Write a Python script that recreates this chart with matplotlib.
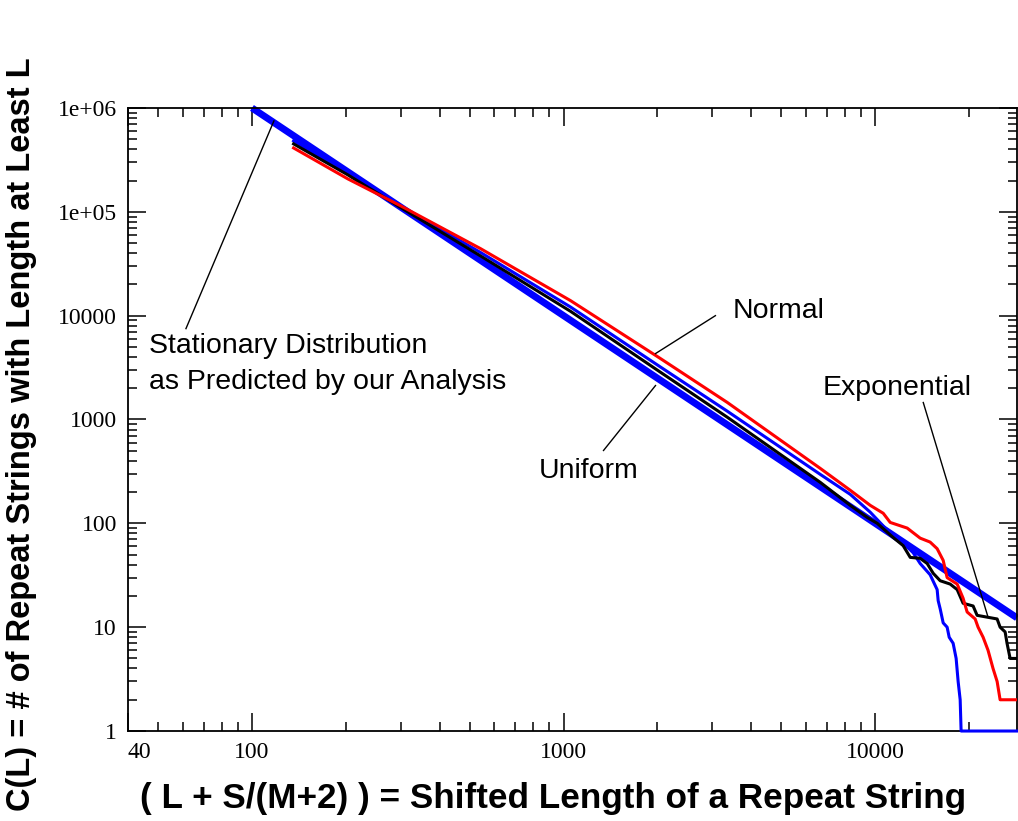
import matplotlib
matplotlib.use('Agg')
import matplotlib.pyplot as plt
from matplotlib.ticker import LogLocator, NullFormatter

plt.rcParams['font.family'] = ['Liberation Sans', 'DejaVu Sans']

# predicted stationary distribution (pure power law, two end points)
stat_L = [100, 28500]
stat_C = [1.0e6, 12.3]

# simulated C(L) for the three length distributions
norm_L = [136, 203, 300, 542, 1053, 2046, 3354, 6663, 8316, 9638, 10608, 11170,
          12664, 13940, 15000, 15800, 16520, 17010, 18320, 19140, 19720, 20920,
          21380, 22190, 23010, 23880, 24610, 25160, 28500]
norm_C = [412000, 207600, 114200, 44100, 13940, 3860, 1457, 338, 208, 149, 125, 102,
          90, 72, 66, 57, 44, 30, 26, 19, 14, 12,
          10, 8, 6, 4, 3, 2, 2]

exp_L = [136, 203, 300, 542, 1053, 2046, 3354, 6663, 8316, 9425, 10150, 11420,
         12290, 12950, 13940, 14680, 15350, 16160, 17400, 18320, 19140, 20610,
         21230, 24610, 25160, 26110, 26480, 27090, 28500]
exp_C = [451000, 227000, 110000, 37500, 11000, 2850, 1050, 248, 149, 114, 100, 73,
         61, 47, 46, 41, 33, 28, 26, 23, 17, 16,
         13, 12, 10, 9, 7, 5, 5]

uni_L = [136, 203, 300, 542, 1053, 2046, 3354, 6663, 8316, 9638, 10770, 12030,
         13240, 13940, 15000, 15800, 15920, 16160, 16520, 17010, 17270, 17780,
         18180, 18450, 18730, 18860, 28500]
uni_C = [482000, 237000, 113000, 40500, 12100, 3200, 1200, 296, 190, 128, 90, 69,
         52, 41, 32, 23, 18, 15, 11, 10, 8, 7,
         5, 3, 2, 1, 1]

xticks = [40, 100, 1000, 10000]
xlabels = ['40', '100', '1000', '10000']
yticks = [1, 10, 100, 1000, 10000, 1e5, 1e6]
ylabels = ['1', '10', '100', '1000', '10000', '1e+05', '1e+06']

fig = plt.figure(figsize=(10.18, 8.21), dpi=100)
ax = fig.add_axes([0.1257, 0.1096, 0.8733, 0.7589])

ax.plot(stat_L, stat_C, color='#0000ff', lw=5.0, solid_capstyle='butt',
        clip_on=False, zorder=2)
ax.plot(uni_L, uni_C, color='#0000ff', lw=2.2, clip_on=False, zorder=3)
ax.plot(exp_L, exp_C, color='black', lw=2.2, zorder=4)
ax.plot(norm_L, norm_C, color='#ff0000', lw=2.2, zorder=5)

ax.set_xscale('log')
ax.set_yscale('log')
ax.set_xlim(40, 28500)
ax.set_ylim(1, 1e6)

ax.set_xticks(xticks, xlabels)
ax.set_yticks(yticks, ylabels)
ax.xaxis.set_minor_locator(LogLocator(base=10, subs=range(2, 10), numticks=20))
ax.yaxis.set_minor_locator(LogLocator(base=10, subs=range(2, 10), numticks=20))
ax.xaxis.set_minor_formatter(NullFormatter())
ax.yaxis.set_minor_formatter(NullFormatter())
ax.get_xticklabels()[0].set_horizontalalignment('left')

for lab in ax.get_xticklabels() + ax.get_yticklabels():
    lab.set_fontfamily('Liberation Serif')
    lab.set_fontsize(17)
ax.tick_params(which='both', direction='in', top=True, right=True, width=1.1)
ax.tick_params(which='major', length=13, pad=8)
ax.tick_params(which='minor', length=6.5)
for s in ax.spines.values():
    s.set_linewidth(1.3)

# annotations
ax.plot([61.4, 117.6], [7500, 750000], color='black', lw=1.0, zorder=6)
ax.text(46.8, 4408, 'Stationary Distribution', fontsize=20.5, va='baseline')
ax.text(46.8, 4408 / 10 ** (36 / 104), 'as Predicted by our Analysis',
        fontsize=20.5, va='baseline')

ax.plot([1972, 3070], [4313, 10000], color='black', lw=1.0, zorder=6)
ax.text(3481, 9570, 'Normal', fontsize=20.5, va='baseline')

ax.plot([1343, 1972], [503, 2123], color='black', lw=1.0, zorder=6)
ax.text(832, 271, 'Uniform', fontsize=20.5, va='baseline')

ax.plot([14260, 23010], [1457, 12.5], color='black', lw=1.0, zorder=6)
ax.text(6761, 1740, 'Exponential', fontsize=20.5, va='baseline')

fig.text(0.543, 1 - 808 / 821, '( L + S/(M+2) ) = Shifted Length of a Repeat String',
         fontsize=25.3, fontweight='bold', ha='center', va='baseline')
fig.text(0.021, 1 - 434 / 821, 'C(L) = # of Repeat Strings with Length at Least L',
         fontsize=23.5, fontweight='bold', ha='center', va='center', rotation=90)

fig.savefig('out.png', dpi=100)
